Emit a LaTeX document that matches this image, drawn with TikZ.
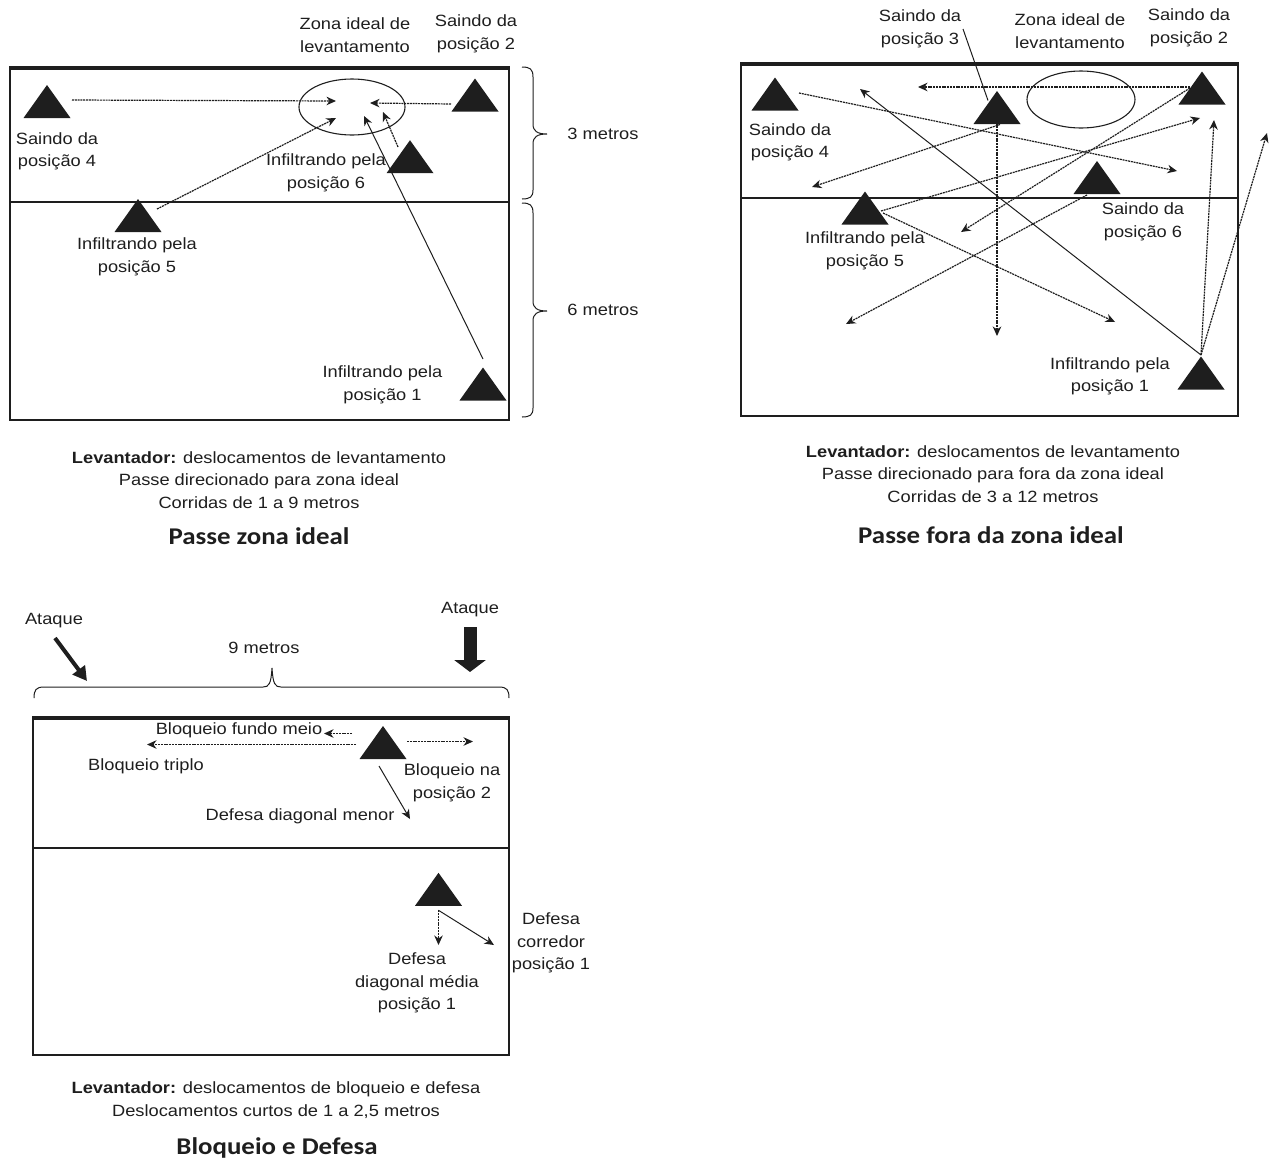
\documentclass[tikz,border=0pt]{standalone}
\usepackage{fontspec}
\setmainfont{Liberation Sans}[FakeStretch=1.12]
\newfontfamily\headfont{Carlito}[FakeStretch=1.12]
\usetikzlibrary{arrows.meta,shapes.geometric,calc}
\definecolor{ink}{HTML}{1E1E1E}

\tikzset{
  lbl/.style={font=\fontsize{16.3}{22.5}\selectfont, align=center, inner sep=0pt, text=ink},
  ttl/.style={font=\headfont\bfseries\fontsize{24}{28}\selectfont, inner sep=0pt, text=ink},
  court/.style={draw=ink, line width=1.3pt},
  netline/.style={draw=ink, line width=4pt},
  tipA/.style={-{Stealth[length=9.5pt,width=8.5pt,inset=3pt]}},
  run/.style={draw=ink, line width=1.2pt, dash pattern=on 2pt off 0.8pt, tipA},
  runs/.style={draw=ink, line width=1pt, tipA},
  zone/.style={draw=ink, ellipse, line width=1.1pt, inner sep=0pt},
  player/.pic={\fill[ink] (0,-16.5) -- (23.5,16.5) -- (-23.5,16.5) -- cycle;}
}

\begin{document}
\begin{tikzpicture}[x=1pt,y=-1pt]
\useasboundingbox (0,0) rectangle (1269,1160);

% ---------------- Passe zona ideal ----------------
\draw[court] (10,67) rectangle (509,420);
\draw[netline] (10,67.5) -- (509,67.5);
\draw[court] (10,202) -- (509,202);

\node[zone, minimum width=106, minimum height=56] (zA) at (352,107) {};

\path (47,101.5) coordinate (A4) pic {player};
\path (475,95) coordinate (A2) pic {player};
\path (410,156.7) coordinate (A6) pic {player};
\path (138,215.5) coordinate (A5) pic {player};
\path (483,384) coordinate (A1) pic {player};

\coordinate (tA4) at (336,101);
\coordinate (tA2) at (370,103);
\coordinate (tA5) at (336,118);
\coordinate (tA1) at (364,116);
\coordinate (tA6) at (383,112);

\draw[run] ($(A4)+(25,-1.5)$) -- (tA4);
\draw[run] ($(A2)+(-24,9)$) -- (tA2);
\draw[run] ($(A5)+(19,-6.5)$) -- (tA5);
\draw[runs] ($(A1)+(0,-25)$) -- (tA1);
\draw[run] ($(A6)+(-12,-9.7)$) -- (tA6);

\node[lbl] (lzA) at (355,35) {Zona ideal de\\levantamento};
\node[lbl] (lA2) at (476,34) {Saindo da\\posição 2};
\node[lbl] (lA4) at (57,151.5) {Saindo da\\posição 4};
\node[lbl] (lA6) at (326,173) {Infiltrando pela\\posição 6};
\node[lbl] (lA5) at (137,257) {Infiltrando pela\\posição 5};
\node[lbl] (lA1) at (382.5,385) {Infiltrando pela\\posição 1};

% side braces: 3 m and 6 m
\draw[ink, line width=1pt] (522,67) .. controls (530,67) and (533,69) .. (533,77)
  -- (533,124) .. controls (533,131) and (537,134) .. (547,134)
  .. controls (537,134) and (533,137) .. (533,144)
  -- (533,190) .. controls (533,197) and (530,199) .. (522,199);
\draw[ink, line width=1pt] (522,203) .. controls (530,203) and (533,205) .. (533,213)
  -- (533,301) .. controls (533,308) and (537,311) .. (547,311)
  .. controls (537,311) and (533,314) .. (533,321)
  -- (533,408) .. controls (533,415) and (530,417) .. (522,417);
\node[lbl] (m3) at (603,134) {3 metros};
\node[lbl] (m6) at (603,310) {6 metros};

\node[lbl] (capA) at (259,480) {\textbf{Levantador:} deslocamentos de levantamento\\Passe direcionado para zona ideal\\Corridas de 1 a 9 metros};
\node[ttl] (ttlA) at (259,536) {Passe zona ideal};

% ---------------- Passe fora da zona ideal ----------------
\draw[court] (741,63) rectangle (1238,416);
\draw[netline] (741,63.5) -- (1238,63.5);
\draw[court] (741,198) -- (1238,198);

\node[zone, minimum width=108, minimum height=57] (zB) at (1081,99.5) {};

\path (775,94) coordinate (B4) pic {player};
\path (997,107.5) coordinate (B3) pic {player};
\path (1202,88) coordinate (B2) pic {player};
\path (1097,177.5) coordinate (B6) pic {player};
\path (865,208) coordinate (B5) pic {player};
\path (1201,373) coordinate (B1) pic {player};

\coordinate (tB2a) at (918,87);
\coordinate (tB2b) at (961,232);
\coordinate (tB4) at (1177,171);
\coordinate (tB1a) at (860,89);
\coordinate (tB1b) at (1214,120);
\coordinate (tB1c) at (1267,133);
\coordinate (tB3a) at (997,336);
\coordinate (tB3b) at (812,187);
\coordinate (tB5a) at (1200,118);
\coordinate (tB5b) at (1115,322);
\coordinate (tB6) at (846,324);

\draw[run] ($(B2)+(-12,-1)$) -- (tB2a);
\draw[run] ($(B2)+(-12,0)$) -- (tB2b);
\draw[run] ($(B4)+(24,-1)$) -- (tB4);
\draw[runs] ($(B1)+(0,-18)$) -- (tB1a);
\draw[run] ($(B1)+(0,-18)$) -- (tB1b);
\draw[run] ($(B1)+(0,-18)$) -- (tB1c);
\draw[run] ($(B3)+(0,16)$) -- (tB3a);
\draw[run] ($(B3)+(3,17)$) -- (tB3b);
\draw[run] ($(B5)+(16,3)$) -- (tB5a);
\draw[run] ($(B5)+(18,5)$) -- (tB5b);
\draw[run] ($(B6)+(-10,17.5)$) -- (tB6);

\node[lbl] (lB3) at (920,29) {Saindo da\\posição 3};
\node[lbl] (lzB) at (1070,31) {Zona ideal de\\levantamento};
\node[lbl] (lB2) at (1189,28) {Saindo da\\posição 2};
\node[lbl] (lB4) at (790,142.5) {Saindo da\\posição 4};
\node[lbl] (lB5) at (865,251) {Infiltrando pela\\posição 5};
\node[lbl] (lB6) at (1143,222) {Saindo da\\posição 6};
\node[lbl] (lB1) at (1110,376.5) {Infiltrando pela\\posição 1};

\coordinate (pB3) at (963,29);
\draw[ink, line width=1pt] (pB3) -- ($(B3)+(-9,-7)$);

\node[lbl] (capB) at (993,474) {\textbf{Levantador:} deslocamentos de levantamento\\Passe direcionado para fora da zona ideal\\Corridas de 3 a 12 metros};
\node[ttl] (ttlB) at (991,535) {Passe fora da zona ideal};

% ---------------- Bloqueio e Defesa ----------------
\node[lbl] (atk1) at (54,621) {Ataque};
\node[lbl] (atk2) at (470,610) {Ataque};
\node[lbl] (m9) at (264,648) {9 metros};
\coordinate (a1s) at (55,638);
\coordinate (a1e) at (87,681);
\coordinate (a2s) at (470,627);
\coordinate (a2e) at (470,672);
\draw[ink, line width=4pt, -{Triangle[length=14pt,width=15pt]}] (a1s) -- (a1e);
\draw[ink, line width=13pt, -{Triangle[length=12pt,width=31pt]}] (a2s) -- (a2e);

\draw[ink, line width=1pt] (34,698) .. controls (34,690) and (36,687) .. (44,687)
  -- (263,687) .. controls (269,687) and (271,684) .. (272,668)
  .. controls (273,684) and (275,687) .. (281,687)
  -- (499,687) .. controls (507,687) and (509,690) .. (509,698);

\draw[court] (33,717) rectangle (509,1055);
\draw[netline] (33,717.5) -- (509,717.5);
\draw[court] (33,848) -- (509,848);

\path (383,742.5) coordinate (C1) pic {player};
\path (438.5,889.3) coordinate (C2) pic {player};

\coordinate (tC1a) at (324,733.5);
\coordinate (tC1b) at (147,744.5);
\coordinate (tC1c) at (473,741.5);
\coordinate (tC1d) at (410,819);
\coordinate (tC2a) at (438.5,945);
\coordinate (tC2b) at (494,945);

\draw[run] ($(C1)+(-31,-9)$) -- (tC1a);
\draw[run] ($(C1)+(-27,2)$) -- (tC1b);
\draw[run] ($(C1)+(24,-1)$) -- (tC1c);
\draw[runs] ($(C1)+(-4,23.5)$) -- (tC1d);
\draw[run] ($(C2)+(0,21)$) -- (tC2a);
\draw[runs] ($(C2)+(0,21)$) -- (tC2b);

\node[lbl] (lC1a) at (239,730) {Bloqueio fundo meio};
\node[lbl] (lC1b) at (146,766) {Bloqueio triplo};
\node[lbl] (lC1c) at (452,783) {Bloqueio na\\posição 2};
\node[lbl] (lC1d) at (300,816) {Defesa diagonal menor};
\node[lbl] (lC2b) at (551,943) {Defesa\\corredor\\posição 1};
\node[lbl] (lC2a) at (417,983) {Defesa\\diagonal média\\posição 1};

\node[lbl] (capC) at (276,1100) {\textbf{Levantador:} deslocamentos de bloqueio e defesa\\Deslocamentos curtos de 1 a 2,5 metros};
\node[ttl] (ttlC) at (277,1148) {Bloqueio e Defesa};
\end{tikzpicture}
\end{document}
